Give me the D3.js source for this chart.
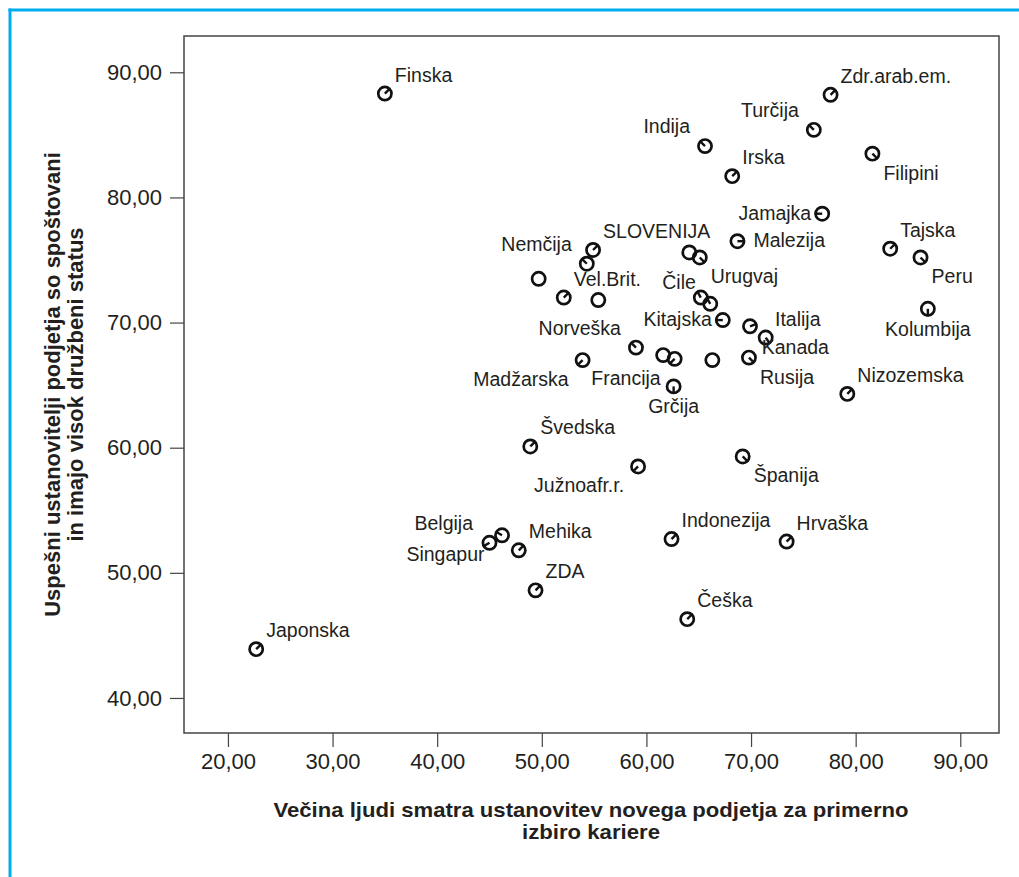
<!DOCTYPE html>
<html>
<head>
<meta charset="utf-8">
<script src="https://cdn.jsdelivr.net/npm/d3@7"></script>
<style>
  html, body { margin: 0; padding: 0; background: #ffffff; }
  svg { display: block; font-family: "Liberation Sans", Arial, Helvetica, sans-serif; }
</style>
</head>
<body>
<svg id="chart" width="1019" height="877"></svg>
<script>
// ---------- data ----------
const countries = [
  "Finska", "Zdr.arab.em.", "Turčija", "Indija", "Filipini", "Irska", "Jamajka", "Malezija",
  "Tajska", "Peru", "SLOVENIJA", "Nemčija", "", "Vel.Brit.", "", "", "Urugvaj", "Čile", "",
  "Kitajska", "Italija", "Kanada", "Kolumbija", "Norveška", "", "Francija", "", "Rusija",
  "Madžarska", "Grčija", "Nizozemska", "Švedska", "Južnoafr.r.", "Španija", "Belgija",
  "Singapur", "Mehika", "ZDA", "Indonezija", "Hrvaška", "Češka", "Japonska"
];
const careerChoice = [
  35.0, 77.6, 76.0, 65.6, 81.6, 68.2, 76.8, 68.7,
  83.3, 86.2, 54.9, 54.3, 49.7, 52.1, 55.4, 64.1, 65.1, 65.2, 66.1,
  67.3, 69.9, 71.4, 86.9, 59.0, 61.6, 62.7, 66.3, 69.8,
  53.9, 62.6, 79.2, 48.9, 59.2, 69.2, 46.2,
  45.0, 47.8, 49.4, 62.4, 73.4, 63.9, 22.7
];
const respectedStatus = [
  88.3, 88.2, 85.4, 84.1, 83.5, 81.7, 78.7, 76.5,
  75.9, 75.2, 75.8, 74.7, 73.5, 72.0, 71.8, 75.6, 75.2, 72.0, 71.5,
  70.2, 69.7, 68.8, 71.1, 68.0, 67.4, 67.1, 67.0, 67.2,
  67.0, 64.9, 64.3, 60.1, 58.5, 59.3, 53.0,
  52.4, 51.8, 48.6, 52.7, 52.5, 46.3, 43.9
];
// label placement code per point ("" = no label / no leader)
const labelDir = [
  "ne", "ne", "nw", "nw", "se", "ne", "w", "e",
  "ne", "se", "ne", "nw", "", "ne", "", "", "se", "nnw", "nnw",
  "w", "ene", "sse", "s", "nw", "", "sw", "", "se",
  "sw", "s", "ne", "ne", "sw", "se", "wnw",
  "wsw", "ne", "ne", "ne", "ne", "ne", "ne"
];
const xTicks = [20, 30, 40, 50, 60, 70, 80, 90];
const yTicks = [40, 50, 60, 70, 80, 90];
const xTitle = ["Večina ljudi smatra ustanovitev novega podjetja za primerno", "izbiro kariere"];
const yTitle = ["Uspešni ustanovitelji podjetja so spoštovani", "in imajo visok družbeni status"];

// ---------- layout / style ----------
const box = { left: 184, right: 999, top: 36, bottom: 733 };
const ink = "#231f20";
// code -> [text-anchor, dx, dy (baseline), leader angle in degrees]
const placement = {
  ne:  ["start", 10, -12, -45],
  nw:  ["end", -15, -13, -135],
  se:  ["start", 11, 26, 45],
  sw:  ["end", -14, 26, 135],
  s:   ["middle", 0, 27, 90],
  w:   ["end", -11, 6, 180],
  e:   ["start", 16, 6, 0],
  ene: ["start", 25, 0, -20],
  sse: ["start", -4, 16, 55],
  nnw: ["end", -5, -9, -120],
  wnw: ["end", -29, -5, -150],
  wsw: ["end", -5, 18, 150]
};

const data = countries.map((c, i) => ({
  name: c, x: careerChoice[i], y: respectedStatus[i], dir: labelDir[i]
}));

const svg = d3.select("#chart");

// outer blue frame (top + left)
svg.append("line").attr("x1", 8.5).attr("x2", 1019).attr("y1", 10).attr("y2", 10)
  .attr("stroke", "#00aeef").attr("stroke-width", 3);
svg.append("line").attr("x1", 10).attr("x2", 10).attr("y1", 8.5).attr("y2", 877)
  .attr("stroke", "#00aeef").attr("stroke-width", 3);

const x = d3.scaleLinear().domain([15.8, 93.7]).range([box.left, box.right]);
const y = d3.scaleLinear().domain([37.2, 92.9]).range([box.bottom, box.top]);

const loc = d3.formatLocale({ decimal: ",", thousands: ".", grouping: [3], currency: ["", "€"] });
const fmt = loc.format(".2f");

// plot box
svg.append("rect")
  .attr("x", box.left).attr("y", box.top)
  .attr("width", box.right - box.left).attr("height", box.bottom - box.top)
  .attr("fill", "none").attr("stroke", "#444").attr("stroke-width", 1.5);

// axes
const xAxis = svg.append("g").attr("transform", `translate(0,${box.bottom})`)
  .call(d3.axisBottom(x).tickValues(xTicks).tickFormat(fmt).tickSize(14).tickPadding(6));
const yAxis = svg.append("g").attr("transform", `translate(${box.left},0)`)
  .call(d3.axisLeft(y).tickValues(yTicks).tickFormat(fmt).tickSize(14).tickPadding(8));
[xAxis, yAxis].forEach(g => {
  g.select(".domain").remove();
  g.selectAll(".tick line").attr("stroke", "#444").attr("stroke-width", 1.2);
  g.selectAll(".tick text").attr("fill", ink).style("font-size", "22px")
    .style("font-family", "'Liberation Sans', Arial, sans-serif");
});

// axis titles
const xt = svg.append("g").attr("fill", ink)
  .style("font-size", "20.5px").style("font-weight", "bold");
xTitle.forEach((t, i) => {
  const len = i === 0 ? 635 : 138;
  xt.append("text").attr("text-anchor", "middle")
    .attr("x", 591).attr("y", 817 + i * 22)
    .attr("textLength", len).attr("lengthAdjust", "spacingAndGlyphs")
    .text(t);
});

const yt = svg.append("text").attr("text-anchor", "middle").attr("fill", ink)
  .attr("transform", `translate(0,${(box.top + box.bottom) / 2}) rotate(-90)`)
  .style("font-size", "22px").style("font-weight", "bold");
yTitle.forEach((t, i) => yt.append("tspan").attr("x", 0).attr("y", 60 + i * 23).text(t));

// points
const r = 6.6;
const pts = svg.append("g").selectAll("g.pt").data(data).join("g")
  .attr("class", "pt")
  .attr("transform", d => `translate(${x(d.x)},${y(d.y)})`);

pts.append("circle").attr("r", r)
  .attr("fill", "none").attr("stroke", "#111").attr("stroke-width", 2.7);

pts.filter(d => d.dir !== "").append("line")
  .attr("x1", 0).attr("y1", 0)
  .attr("x2", d => Math.cos(placement[d.dir][3] * Math.PI / 180) * (r + 1))
  .attr("y2", d => Math.sin(placement[d.dir][3] * Math.PI / 180) * (r + 1))
  .attr("stroke", "#111").attr("stroke-width", 2.4).attr("stroke-linecap", "butt");

pts.filter(d => d.dir !== "" && d.name !== "").append("text")
  .attr("text-anchor", d => placement[d.dir][0])
  .attr("x", d => placement[d.dir][1])
  .attr("y", d => placement[d.dir][2])
  .attr("fill", ink)
  .style("font-size", "19.5px")
  .text(d => d.name);
</script>
</body>
</html>
